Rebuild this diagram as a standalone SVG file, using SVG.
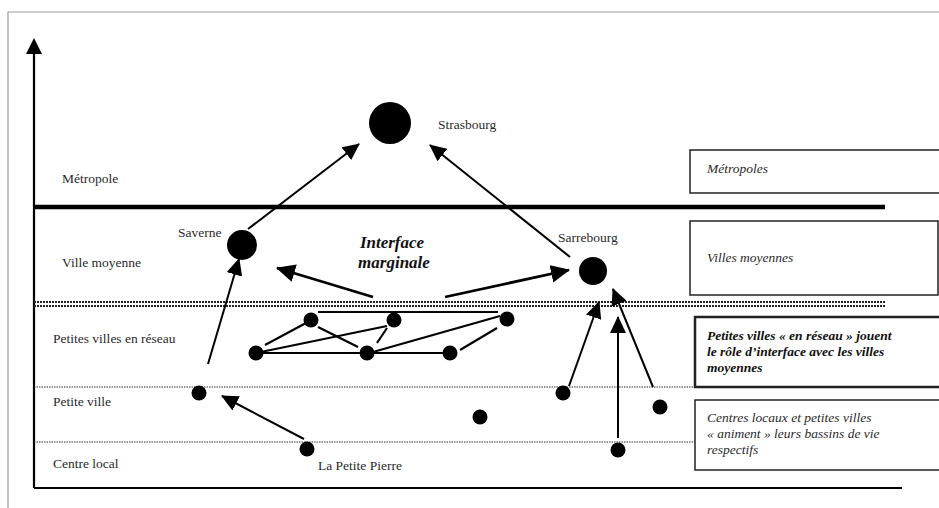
<svg xmlns="http://www.w3.org/2000/svg" width="939" height="508" viewBox="0 0 939 508">
<style>
text{font-family:"Liberation Serif","Times New Roman",serif;fill:#2a2a2a}
.lbl{font-size:13.5px}
.it{font-size:13.5px;font-style:italic}
.bi{font-size:13.5px;font-style:italic;font-weight:bold;fill:#111}
.big{font-size:17px;font-style:italic;font-weight:bold;fill:#111}
.ln{stroke:#000;stroke-width:2.2;fill:none}
.ar{stroke:#000;stroke-width:2;fill:none;marker-end:url(#ah)}
.arb{stroke:#000;stroke-width:2.8;fill:none;marker-end:url(#ahb)}
.dot{fill:#000}
.box{fill:#fff;stroke:#222;stroke-width:1.5}
.boxb{fill:#fff;stroke:#222;stroke-width:2.5}
.dotted{stroke:#333;stroke-width:1.2;stroke-dasharray:1.5 1}
.iface{stroke:#222;stroke-width:2;stroke-dasharray:2 1}
</style>
<defs>
<marker id="ah" markerUnits="userSpaceOnUse" markerWidth="18" markerHeight="16" refX="16" refY="8" orient="auto">
<path d="M0,0 L17,8 L0,16 Z" fill="#000"/>
</marker>
<marker id="ahb" markerUnits="userSpaceOnUse" markerWidth="20" markerHeight="18" refX="18" refY="9" orient="auto">
<path d="M0,0 L19,9 L0,18 Z" fill="#000"/>
</marker>
</defs>
<rect width="939" height="508" fill="#fff"/>
<path d="M8,508 V12 H939" fill="none" stroke="#999" stroke-width="1.2"/>

<g id="axes">
<line x1="34" y1="488" x2="34" y2="52" stroke="#000" stroke-width="2.2"/>
<path d="M26,54 L34,38 L42,54 Z" fill="#000"/>
<line x1="34" y1="488" x2="902" y2="488" stroke="#000" stroke-width="2"/>
</g>

<g id="levels">
<line x1="34" y1="207" x2="885" y2="207" stroke="#000" stroke-width="4.5"/>
<line class="iface" x1="34" y1="302" x2="885" y2="302"/>
<line class="iface" x1="34" y1="306" x2="885" y2="306"/>
<line class="dotted" x1="34" y1="387" x2="695" y2="387"/>
<line class="dotted" x1="34" y1="442" x2="695" y2="442"/>
</g>

<g id="level-labels">
<text class="lbl" x="62" y="183">Métropole</text>
<text class="lbl" x="62" y="267">Ville moyenne</text>
<text class="lbl" x="53" y="343">Petites villes en réseau</text>
<text class="lbl" x="53" y="406">Petite ville</text>
<text class="lbl" x="53" y="468">Centre local</text>
</g>

<g id="legend-metropoles"><rect class="box" x="690" y="150" width="250" height="43"/><text class="it" x="707" y="173">Métropoles</text></g>
<g id="legend-villes-moyennes"><rect class="box" x="690" y="221" width="248" height="74"/><text class="it" x="707" y="262">Villes moyennes</text></g>
<g id="legend-petites-villes"><rect class="boxb" x="695" y="317" width="246" height="70"/>
<text class="bi" x="707" y="340">Petites villes « en réseau » jouent</text>
<text class="bi" x="707" y="356">le rôle d’interface avec les villes</text>
<text class="bi" x="707" y="372">moyennes</text></g>
<g id="legend-centres"><rect class="box" x="695" y="400" width="246" height="70"/>
<text class="it" x="707" y="422" fill="#444">Centres locaux et petites villes</text>
<text class="it" x="707" y="438" fill="#444">« animent » leurs bassins de vie</text>
<text class="it" x="707" y="454" fill="#444">respectifs</text></g>

<g id="interface-label"><text class="big" x="392" y="248" text-anchor="middle">Interface</text><text class="big" x="394" y="268" text-anchor="middle">marginale</text></g>

<g id="connectors">
<line class="ar" x1="248" y1="229" x2="359" y2="144"/>
<line class="ar" x1="570" y1="257" x2="430" y2="145"/>
<line class="arb" x1="373" y1="297" x2="277" y2="268"/>
<line class="arb" x1="445" y1="297" x2="569" y2="270"/>
<line class="ar" x1="208" y1="364" x2="239" y2="259"/>
<line class="ar" x1="304" y1="439" x2="222" y2="396"/>
<line class="ar" x1="569" y1="386" x2="599" y2="302"/>
<line class="ar" x1="653" y1="387" x2="613" y2="289"/>
<line class="ar" x1="618" y1="438" x2="618" y2="317"/>
<line class="ln" x1="318" y1="312" x2="498" y2="312"/>
<line class="ln" x1="265" y1="345" x2="306" y2="323"/>
<line class="ln" x1="256" y1="353" x2="387" y2="326"/>
<line class="ln" x1="256" y1="353" x2="450" y2="353"/>
<line class="ln" x1="318" y1="327" x2="358" y2="347"/>
<line class="ln" x1="377" y1="343" x2="387" y2="328"/>
<line class="ln" x1="373" y1="352" x2="500" y2="316"/>
<line class="ln" x1="460" y1="350" x2="497" y2="328"/>
</g>

<g id="strasbourg"><circle class="dot" cx="390" cy="123" r="21"/><text class="lbl" x="438" y="129">Strasbourg</text></g>
<g id="saverne"><circle class="dot" cx="242" cy="245" r="15"/><text class="lbl" x="178" y="237">Saverne</text></g>
<g id="sarrebourg"><circle class="dot" cx="593" cy="271" r="14"/><text class="lbl" x="558" y="242">Sarrebourg</text></g>
<g id="net-a"><circle class="dot" cx="311" cy="320" r="7.5"/></g>
<g id="net-b"><circle class="dot" cx="394" cy="320" r="7.5"/></g>
<g id="net-c"><circle class="dot" cx="507" cy="319" r="7.5"/></g>
<g id="net-d"><circle class="dot" cx="256" cy="353" r="7.5"/></g>
<g id="net-e"><circle class="dot" cx="367" cy="353" r="7.5"/></g>
<g id="net-f"><circle class="dot" cx="450" cy="353" r="7.5"/></g>
<g id="petite-ville-w"><circle class="dot" cx="199" cy="393" r="7.5"/></g>
<g id="la-petite-pierre"><circle class="dot" cx="307" cy="449" r="7.5"/><text class="lbl" x="318" y="470">La Petite Pierre</text></g>
<g id="petite-ville-c"><circle class="dot" cx="480" cy="417" r="7.5"/></g>
<g id="petite-ville-e1"><circle class="dot" cx="563" cy="393" r="7.5"/></g>
<g id="petite-ville-e2"><circle class="dot" cx="660" cy="407" r="7.5"/></g>
<g id="centre-local-e"><circle class="dot" cx="618" cy="450" r="7.5"/></g>
</svg>
